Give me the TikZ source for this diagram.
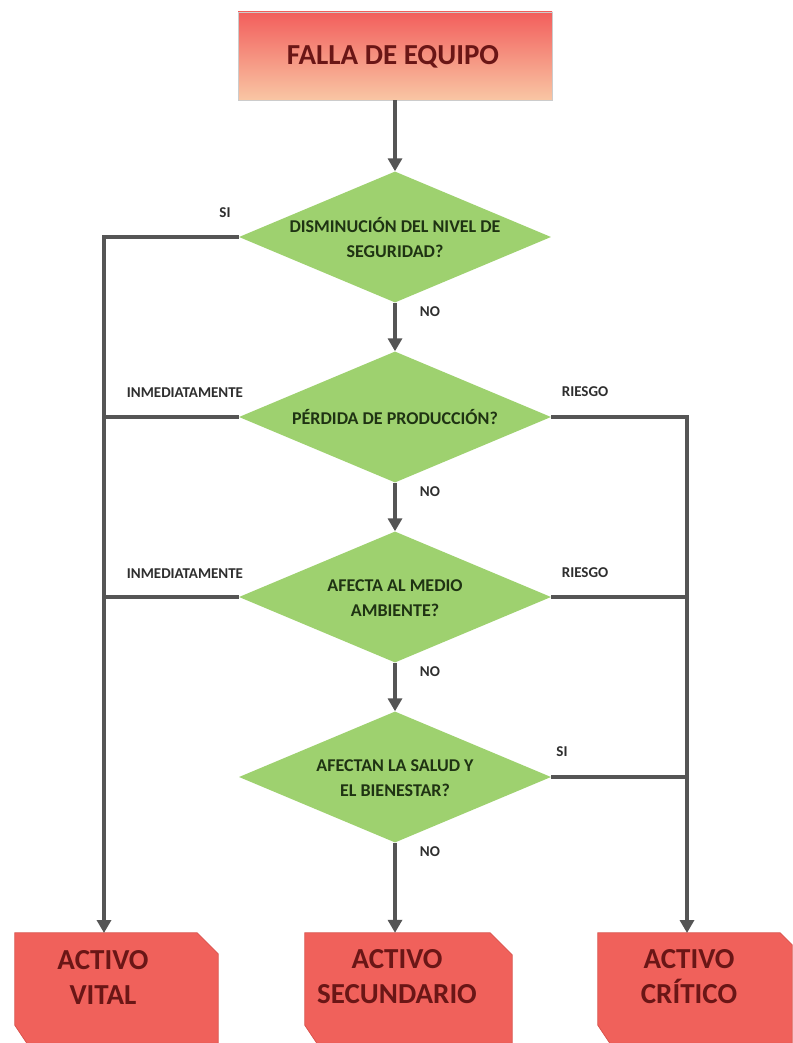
\documentclass[tikz,border=0pt]{standalone}
\usepackage{fontspec}
\setmainfont{Carlito}
\usetikzlibrary{arrows.meta,shapes.geometric}

\definecolor{linegray}{HTML}{555555}
\definecolor{diamondgreen}{HTML}{9ED16F}
\definecolor{darkgreentext}{HTML}{1F3313}
\definecolor{boxred}{HTML}{F0615B}
\definecolor{boxredborder}{HTML}{D9534D}
\definecolor{boxtext}{HTML}{6A1616}
\definecolor{labeltext}{HTML}{2E2E2E}
\definecolor{toptopred}{HTML}{F25E5C}
\definecolor{topmidred}{HTML}{F37A6C}
\definecolor{topbottompeach}{HTML}{F9C6A4}

\tikzset{
  topbox/.style={rectangle, minimum width=314pt, minimum height=88pt, inner sep=0pt,
    top color=toptopred, middle color=topmidred, bottom color=topbottompeach,
    draw=gray!40, line width=0.6pt},
  decision/.style={diamond, minimum width=312pt, minimum height=131pt, inner sep=0pt,
    fill=diamondgreen, draw=none},
  decisiontext/.style={align=center, font=\bfseries\fontsize{18}{25}\selectfont,
    text=darkgreentext, inner sep=0pt},
  outcome/.style={rectangle, minimum height=110pt, inner sep=0pt, draw=none},
  outcomefill/.style={fill=boxred, draw=boxredborder, line width=0.8pt},
  outcometext/.style={align=center, font=\bfseries\fontsize{29}{35}\selectfont,
    text=boxtext, inner sep=0pt},
  branchlabel/.style={font=\bfseries\fontsize{15}{17}\selectfont, text=labeltext, inner sep=0pt},
  flow/.style={draw=linegray, line width=3.6pt, line join=miter,
    -{Triangle[width=14pt,length=13pt]}},
  bus/.style={draw=linegray, line width=3.6pt, line join=miter}
}

\begin{document}
\begin{tikzpicture}[x=1pt,y=-1pt]
\useasboundingbox (0,0) rectangle (792,1043);
\fill[white] (0,0) rectangle (792,1043);

% start box
\node[topbox] (falla) at (395,56) {};
\node[outcometext] (fallatext) at (393,57) {FALLA DE EQUIPO};

% decisions
\node[decision] (d1) at (395,237) {};
\node[decision] (d2) at (395,417) {};
\node[decision] (d3) at (395,597) {};
\node[decision] (d4) at (395,777) {};
\node[decisiontext] (d1text) at (395,238) {DISMINUCIÓN DEL NIVEL DE\\SEGURIDAD?};
\node[decisiontext] (d2text) at (395,417) {PÉRDIDA DE PRODUCCIÓN?};
\node[decisiontext] (d3text) at (395,598) {AFECTA AL MEDIO\\AMBIENTE?};
\node[decisiontext] (d4text) at (395,778) {AFECTAN LA SALUD Y\\EL BIENESTAR?};

% outcome boxes (snipped corners)
\node[outcome, minimum width=203pt] (vital) at (116.5,988) {};
\node[outcome, minimum width=207pt] (secundario) at (408.5,988) {};
\node[outcome, minimum width=194pt] (critico) at (695,988) {};
\foreach \n/\cut in {vital/21,secundario/22,critico/12} {
  \filldraw[outcomefill] (\n.north west) -- ([xshift=-\cut pt]\n.north east)
    -- ([yshift=-\cut pt]\n.north east) -- (\n.south east)
    -- ([xshift=12pt]\n.south west) -- ([yshift=18pt]\n.south west) -- cycle;
}
\node[outcometext] (vitaltext) at (103,977) {ACTIVO\\VITAL};
\node[outcometext] (secundariotext) at (397,977) {ACTIVO\\SECUNDARIO};
\node[outcometext] (criticotext) at (689,977) {ACTIVO\\CRÍTICO};

% bus ends on top of the outcome boxes
\coordinate (leftbus) at (104,933);
\coordinate (rightbus) at (687,933);

% main spine
\draw[flow] (falla.south) -- (d1.north);
\draw[flow] (d1.south) -- (d2.north);
\draw[flow] (d2.south) -- (d3.north);
\draw[flow] (d3.south) -- (d4.north);
\draw[flow] (d4.south) -- (d4.south |- secundario.north);

% left branch to ACTIVO VITAL
\draw[flow] (d1.west) -| (leftbus);
\draw[bus] (d2.west) -- (d2.west -| leftbus);
\draw[bus] (d3.west) -- (d3.west -| leftbus);

% right branch to ACTIVO CRITICO
\draw[flow] (d2.east) -| (rightbus);
\draw[bus] (d3.east) -- (d3.east -| rightbus);
\draw[bus] (d4.east) -- (d4.east -| rightbus);

% branch labels
\node[branchlabel] (lsi1) at (225,213) {SI};
\node[branchlabel] (lno1) at (430,312) {NO};
\node[branchlabel] (linm2) at (185,393) {INMEDIATAMENTE};
\node[branchlabel] (lrie2) at (585,392) {RIESGO};
\node[branchlabel] (lno2) at (430,492) {NO};
\node[branchlabel] (linm3) at (185,574) {INMEDIATAMENTE};
\node[branchlabel] (lrie3) at (585,573) {RIESGO};
\node[branchlabel] (lno3) at (430,672) {NO};
\node[branchlabel] (lsi4) at (562,752) {SI};
\node[branchlabel] (lno4) at (430,852) {NO};
\end{tikzpicture}
\end{document}
